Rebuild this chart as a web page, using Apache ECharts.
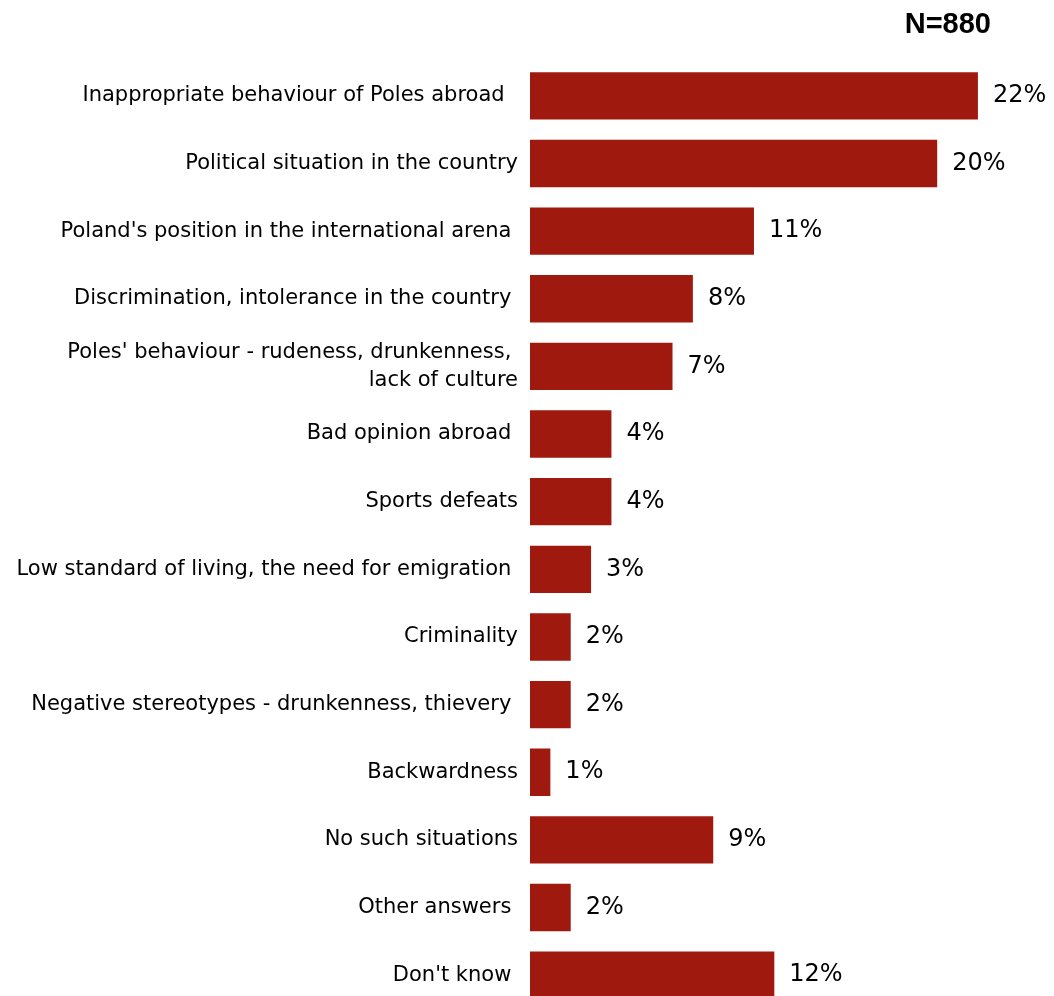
<!DOCTYPE html>
<html><head><meta charset="utf-8">
<script src="https://cdn.jsdelivr.net/npm/echarts@6/dist/echarts.min.js"></script>
<style>html,body{margin:0;padding:0;background:#fff}#c{width:1054px;height:996px}</style>
</head><body><div id="c"></div>
<script>
const categories = [
  "Inappropriate behaviour of Poles abroad  ",
  "Political situation in the country",
  "Poland's position in the international arena ",
  "Discrimination, intolerance in the country ",
  "Poles' behaviour - rudeness, drunkenness, \nlack of culture",
  "Bad opinion abroad ",
  "Sports defeats",
  "Low standard of living, the need for emigration ",
  "Criminality",
  "Negative stereotypes - drunkenness, thievery ",
  "Backwardness",
  "No such situations",
  "Other answers ",
  "Don't know "
];
const values = [22, 20, 11, 8, 7, 4, 4, 3, 2, 2, 1, 9, 2, 12];
const sampleLabel = "N=880";

const chart = echarts.init(document.getElementById('c'));
chart.setOption({
  animation: false,
  title: {
    text: sampleLabel, right: 58, top: 5,
    textStyle: { fontFamily: 'Liberation Sans, Arial', fontWeight: 'bold', fontSize: 29, color: '#000' }
  },
  grid: { left: 530, right: 15, top: 62, height: 947, containLabel: false, outerBoundsMode: 'none' },
  xAxis: { type: 'value', min: 0, max: 25, show: false },
  yAxis: {
    type: 'category', inverse: true, data: categories,
    axisLine: { show: false }, axisTick: { show: false },
    axisLabel: {
      margin: 12, fontFamily: 'DejaVu Sans', fontSize: 21, color: '#000',
      align: 'right', lineHeight: 28
    }
  },
  series: [{
    type: 'bar', data: values, barCategoryGap: '30%',
    itemStyle: { color: '#A0190F' },
    label: {
      show: true, position: 'right', distance: 15, formatter: '{c}%',
      fontFamily: 'DejaVu Sans', fontSize: 24, color: '#000'
    }
  }]
});
</script></body></html>
